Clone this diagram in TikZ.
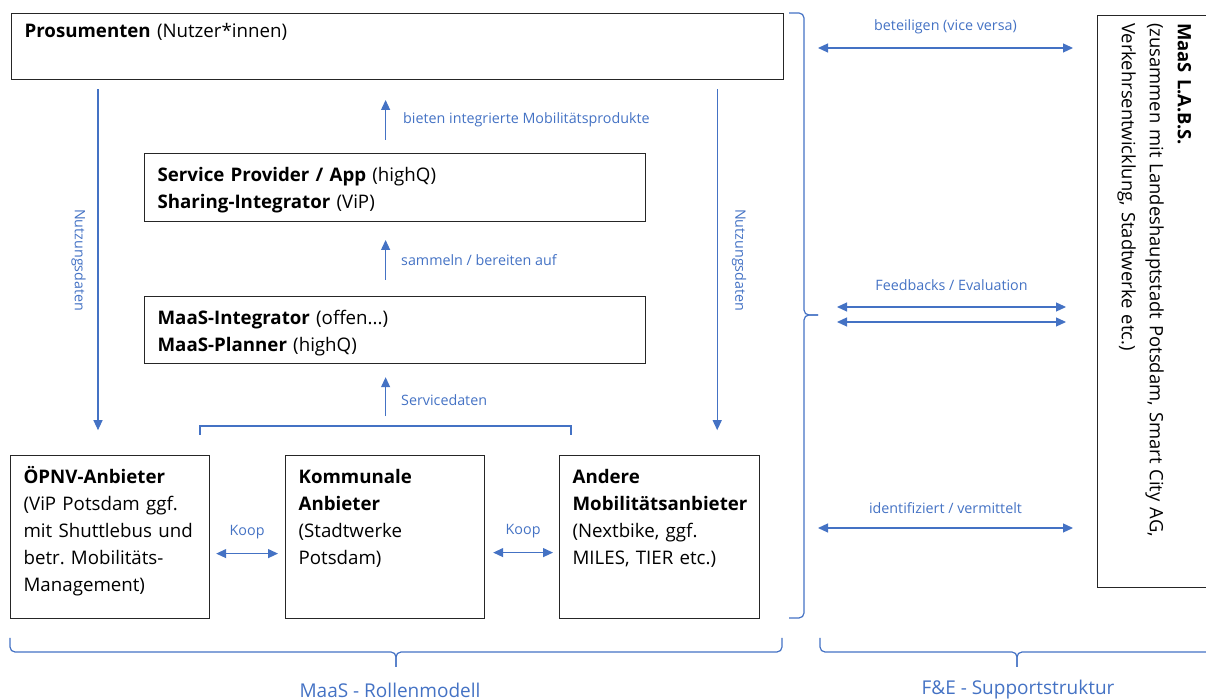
\documentclass[tikz,border=0pt]{standalone}
\usepackage{fontspec}
\setmainfont{Open Sans}
\usetikzlibrary{arrows.meta, positioning, calc}
\definecolor{maasblue}{RGB}{68,114,196}
\definecolor{frameline}{RGB}{38,38,38}
\frenchspacing

\begin{document}
\begin{tikzpicture}[
    x=1pt, y=1pt,
    role/.style={
        rectangle, draw=frameline, line width=1.2pt,
        anchor=north west, align=left,
        inner xsep=13pt, inner ysep=9pt, text height=19pt,
        font=\fontsize{18.7}{27}\selectfont},
    lbl/.style={text=maasblue, font=\fontsize{14.3}{16}\selectfont, inner sep=1pt},
    caption/.style={text=maasblue, font=\fontsize{19}{22}\selectfont},
    flow/.style={-{Triangle[length=10pt,width=9pt]}, line width=1.2pt, color=maasblue},
    both/.style={{Triangle[length=10pt,width=9pt]}-{Triangle[length=10pt,width=9pt]},
        line width=1.2pt, color=maasblue},
    curly/.style={line width=1.2pt, color=maasblue, rounded corners=5pt}]

\useasboundingbox (0,0) rectangle (1206,700);

% Rollenmodell
\node[role, inner ysep=5pt, text width=746pt, text depth=37pt] (pros) at (11,687)
    {\textbf{Prosumenten} (Nutzer*innen)};
\node[role, text width=475pt, text depth=31pt] (sp) at (144,547)
    {\textbf{Service Provider / App} (highQ)\\\textbf{Sharing-Integrator} (ViP)};
\node[role, text width=475pt, text depth=30pt] (mi) at (144,404)
    {\textbf{MaaS-Integrator} (offen...)\\\textbf{MaaS-Planner} (highQ)};
\node[role, text width=173pt, text depth=126pt] (oepnv) at (10,245)
    {\textbf{ÖPNV-Anbieter}\\(ViP Potsdam ggf.\\mit Shuttlebus und\\betr. Mobilitäts-\\Management)};
\node[role, text width=173pt, text depth=126pt] (komm) at (285,245)
    {\textbf{Kommunale}\\\textbf{Anbieter}\\(Stadtwerke\\Potsdam)};
\node[role, text width=174pt, text depth=126pt] (andere) at (559,245)
    {\textbf{Andere}\\\textbf{Mobilitätsanbieter}\\(Nextbike, ggf.\\MILES, TIER etc.)};

% Supportstruktur
\node[draw=frameline, line width=1.2pt, anchor=north west,
      minimum width=118pt, minimum height=572pt] (labs) at (1097,685) {};
\node[rotate=-90, anchor=north west, inner sep=0pt, align=left,
      text width=560pt, text height=15pt, font=\fontsize{18.4}{28}\selectfont] (labstext)
    at ([shift={(96,-8)}]labs.north west)
    {\textbf{MaaS L.A.B.S.}\\(zusammen mit Landeshauptstadt Potsdam, Smart City AG,\\Verkehrsentwicklung, Stadtwerke etc.)};

% Datenfluss
\draw[flow] ([shift={(87,-9)}]pros.south west) -- ++(0,-341);
\draw[flow] ([shift={(-67,-9)}]pros.south east) -- ++(0,-341);
\node[lbl, rotate=-90] (nutzl) at ([shift={(67.5,-180)}]pros.south west) {Nutzungsdaten};
\node[lbl, rotate=-90] (nutzr) at ([shift={(-45,-180)}]pros.south east) {Nutzungsdaten};

\draw[flow] ([shift={(-9.5,13)}]sp.north) -- ++(0,40)
    node[lbl, midway, right=16pt] {bieten integrierte Mobilitätsprodukte};
\draw[flow] ([shift={(-9.5,16)}]mi.north) -- ++(0,40)
    node[lbl, midway, right=14pt] {sammeln / bereiten auf};
\draw[flow] ([shift={(-9.5,-52)}]mi.south) -- ([shift={(-9.5,-13)}]mi.south)
    node[lbl, midway, right=14pt, yshift=-3pt] {Servicedaten};

\draw[line width=1.2pt, maasblue] (200,265) -- (200,274) -- (571,274) -- (571,265);

% Kooperation
\draw[both] ([shift={(6,-16.5)}]oepnv.east) -- ([shift={(-7,-16.5)}]komm.west)
    node[lbl, midway, yshift=21pt] {Koop};
\draw[both] ([shift={(8,-15.5)}]komm.east) -- ([shift={(-6,-15.5)}]andere.west)
    node[lbl, midway, yshift=21pt] {Koop};

% Klammern
\draw[curly] (789,687) -- (804,687) -- (804,385) -- (818,385);
\draw[curly] (789,82) -- (804,82) -- (804,385) -- (818,385);
\draw[curly] (10,62) -- (10,48) -- (396,48) -- (396,33);
\draw[curly] (782,62) -- (782,48) -- (396,48) -- (396,33);
\draw[curly] (820,62) -- (820,48) -- (1017,48) -- (1017,33);
\draw[curly] (1214,62) -- (1214,48) -- (1017,48) -- (1017,33);
\node[caption] (rollen) at (390,10) {MaaS - Rollenmodell};
\node[caption] (support) at (1018,10) {F\&E - Supportstruktur};

% Austausch mit MaaS L.A.B.S.
\draw[both] ([shift={(-279,-33)}]labs.north west) -- ([shift={(-24,-33)}]labs.north west)
    node[lbl, midway, yshift=21pt] {beteiligen (vice versa)};
\draw[both] ([shift={(-260,-292)}]labs.north west) -- ([shift={(-31,-292)}]labs.north west)
    node[lbl, midway, yshift=22pt] {Feedbacks / Evaluation};
\draw[both] ([shift={(-260,-307)}]labs.north west) -- ([shift={(-31,-307)}]labs.north west);
\draw[both] ([shift={(-279,-513)}]labs.north west) -- ([shift={(-24,-513)}]labs.north west)
    node[lbl, midway, yshift=20pt] {identifiziert / vermittelt};

\end{tikzpicture}
\end{document}
